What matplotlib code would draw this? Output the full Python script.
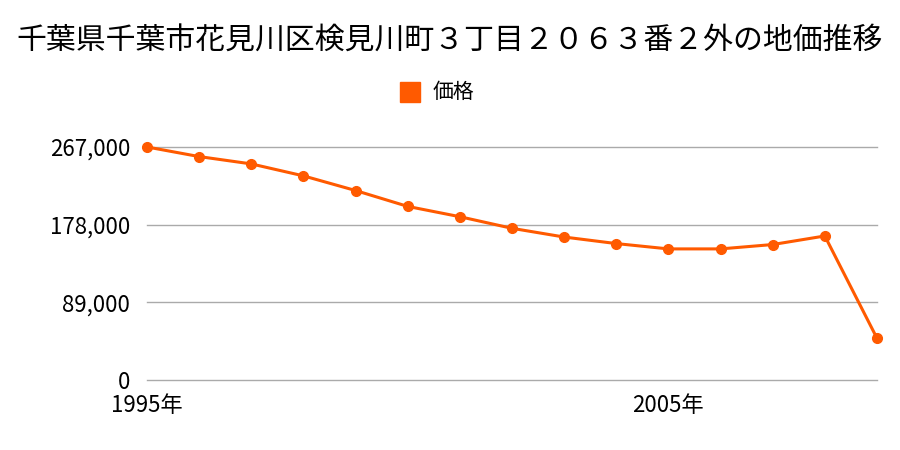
import matplotlib
matplotlib.use("Agg")
import matplotlib.pyplot as plt

plt.rcParams['font.family'] = ['Noto Sans CJK JP', 'DejaVu Sans']

# data
years = [1995, 1996, 1997, 1998, 1999, 2000, 2001, 2002, 2003, 2004,
         2005, 2006, 2007, 2008, 2009]
prices = [267000, 256000, 247600, 233900, 217100, 198900, 187100, 173800,
          163800, 156300, 150200, 150200, 155200, 165000, 47900]
yticks = [0, 89000, 178000, 267000]
ytick_labels = ["0", "89,000", "178,000", "267,000"]
xticks = [1995, 2005]
xtick_labels = ["1995年", "2005年"]
title = "千葉県千葉市花見川区検見川町３丁目２０６３番２外の地価推移"
legend_label = "価格"
color = "#ff5a00"

fig = plt.figure(figsize=(9, 4.5), dpi=100)
ax = fig.add_axes([0.1633, 0.1556, 0.8111, 0.5178])

ax.plot(years, prices, color=color, linewidth=2.2, marker="o",
        markersize=7, clip_on=False, zorder=3)

ax.set_xlim(1995, 2009)
ax.set_ylim(0, 267000)
ax.set_yticks(yticks)
ax.set_yticklabels(ytick_labels, fontsize=16)
ax.set_xticks(xticks)
ax.set_xticklabels(xtick_labels, fontsize=16)
ax.tick_params(axis="y", length=0, pad=12)
ax.tick_params(axis="x", length=0, pad=10)
ax.grid(axis="y", color="#aaaaaa", linewidth=1)
for g in ax.yaxis.get_gridlines():
    g.set_clip_on(False)
ax.set_axisbelow(True)
for s in ax.spines.values():
    s.set_visible(False)

fig.text(0.5, 0.91, title, ha="center", va="center", fontsize=21.5)

# legend
fig.patches.append(plt.Rectangle((400 / 900, 1 - 102 / 450), 20 / 900, 20 / 450,
                                 transform=fig.transFigure, color=color))
fig.text(433 / 900, 1 - 92 / 450, legend_label, ha="left", va="center", fontsize=15)

fig.savefig("out.png")
